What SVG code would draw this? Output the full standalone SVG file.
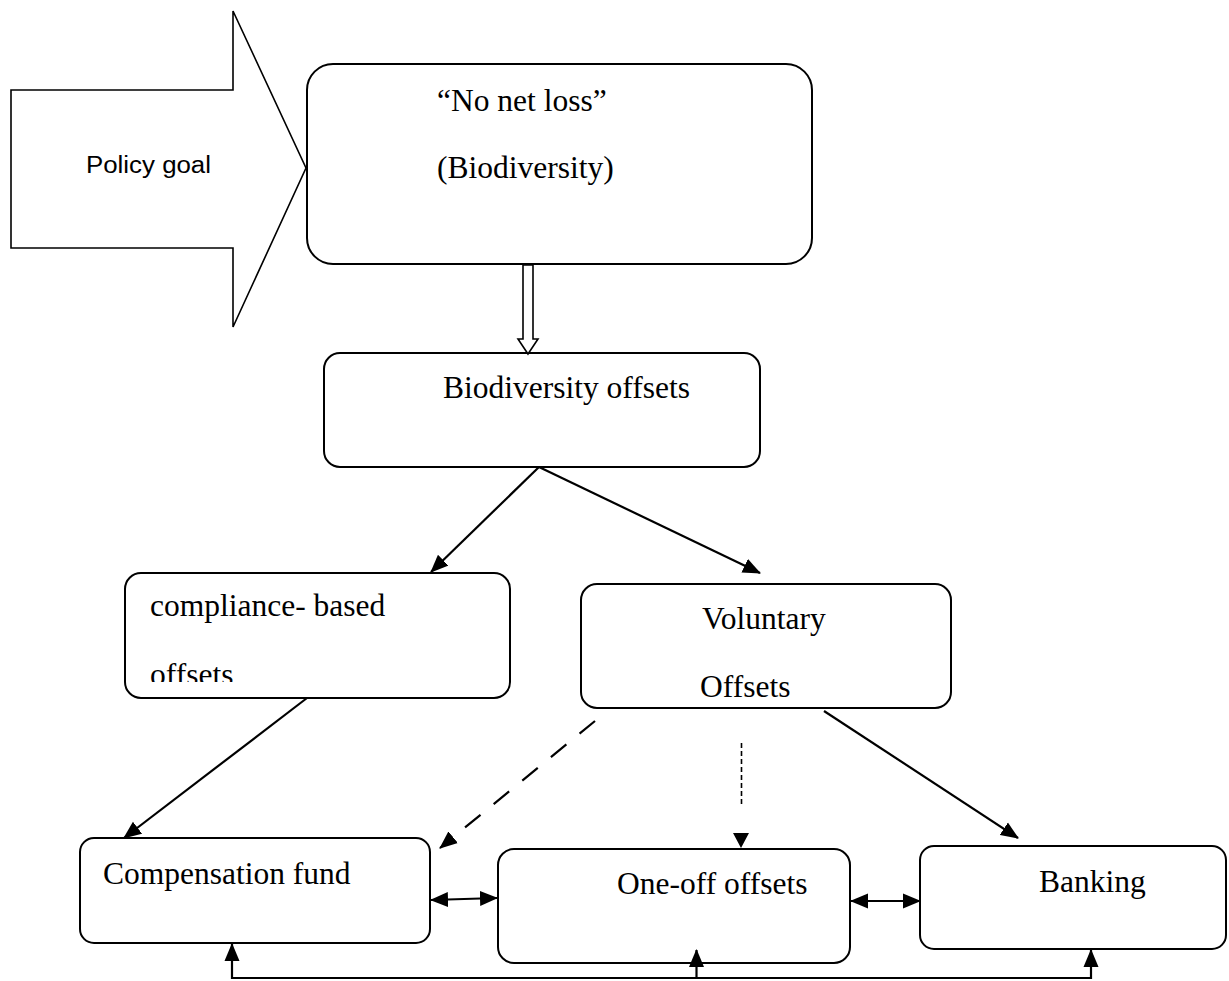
<svg xmlns="http://www.w3.org/2000/svg" width="1229" height="981" viewBox="0 0 1229 981">
<style>
.box{fill:#fff;stroke:#000;stroke-width:2}
.t{font-family:"Liberation Serif","Times New Roman",serif;font-size:31.5px;fill:#000}
.s{font-family:"Liberation Sans",Arial,sans-serif;font-size:23px;fill:#000}
.c{fill:none;stroke:#000;stroke-width:2.2}
</style>
<defs>
<marker id="ah" markerUnits="userSpaceOnUse" markerWidth="18" markerHeight="16" viewBox="0 0 18 16" refX="17" refY="8" orient="auto-start-reverse">
<path d="M0,0.5 L18,8 L0,15.5 Z" fill="#000"/>
</marker>
<clipPath id="clipc"><rect x="125" y="573" width="385" height="109"/></clipPath>
</defs>
<rect width="1229" height="981" fill="#fff"/>
<g id="policy-goal">
<polygon points="11,90 233,90 233,11 306,168 233,327 233,248 11,248" fill="#fff" stroke="#000" stroke-width="1.6"/>
<text class="s" x="86" y="173" textLength="125" lengthAdjust="spacingAndGlyphs">Policy goal</text>
</g>
<g id="no-net-loss">
<rect class="box" x="307" y="64" width="505" height="200" rx="26"/>
<text class="t" x="437" y="111">“No net loss”</text>
<text class="t" x="437" y="178">(Biodiversity)</text>
</g>
<g id="biodiversity-offsets">
<rect class="box" x="324" y="353" width="436" height="114" rx="16"/>
<text class="t" x="443" y="398">Biodiversity offsets</text>
</g>
<g id="compliance">
<rect class="box" x="125" y="573" width="385" height="125" rx="16"/>
<text class="t" x="150" y="616">compliance- based</text>
<text class="t" x="150" y="685" clip-path="url(#clipc)">offsets</text>
</g>
<g id="voluntary">
<rect class="box" x="581" y="584" width="370" height="124" rx="16"/>
<text class="t" x="702" y="629">Voluntary</text>
<text class="t" x="700" y="697">Offsets</text>
</g>
<g id="compensation-fund">
<rect class="box" x="80" y="838" width="350" height="105" rx="14"/>
<text class="t" x="103" y="884">Compensation fund</text>
</g>
<g id="one-off-offsets">
<rect class="box" x="498" y="849" width="352" height="114" rx="16"/>
<text class="t" x="617" y="894">One-off offsets</text>
</g>
<g id="banking">
<rect class="box" x="920" y="846" width="306" height="103" rx="14"/>
<text class="t" x="1039" y="892">Banking</text>
</g>
<g id="connectors">
<polygon points="523,265 523,339 518,339 528,354 538,339 533,339 533,265" fill="#fff" stroke="#000" stroke-width="1.6"/>
<line class="c" x1="539" y1="467" x2="431" y2="572" marker-end="url(#ah)"/>
<line class="c" x1="539" y1="467" x2="760" y2="573" marker-end="url(#ah)"/>
<line class="c" x1="307" y1="698" x2="124" y2="838" marker-end="url(#ah)"/>
<line class="c" x1="595" y1="721" x2="440" y2="848" stroke-width="2" stroke-dasharray="20 17" marker-end="url(#ah)"/>
<line x1="741.5" y1="743" x2="741.5" y2="804" stroke="#000" stroke-width="1.6" stroke-dasharray="5 3"/>
<polygon points="733,833 749,833 741,848" fill="#000"/>
<line class="c" x1="824" y1="711" x2="1018" y2="838" marker-end="url(#ah)"/>
<line class="c" x1="431" y1="900" x2="497" y2="898" marker-start="url(#ah)" marker-end="url(#ah)"/>
<line class="c" x1="851" y1="901" x2="920" y2="901" marker-start="url(#ah)" marker-end="url(#ah)"/>
<polyline class="c" points="232,978 1091,978"/>
<line class="c" x1="232" y1="979" x2="232" y2="944" marker-end="url(#ah)"/>
<line class="c" x1="696.5" y1="978" x2="696.5" y2="950" marker-end="url(#ah)"/>
<line class="c" x1="1091" y1="979" x2="1091" y2="950" marker-end="url(#ah)"/>
</g>
</svg>
